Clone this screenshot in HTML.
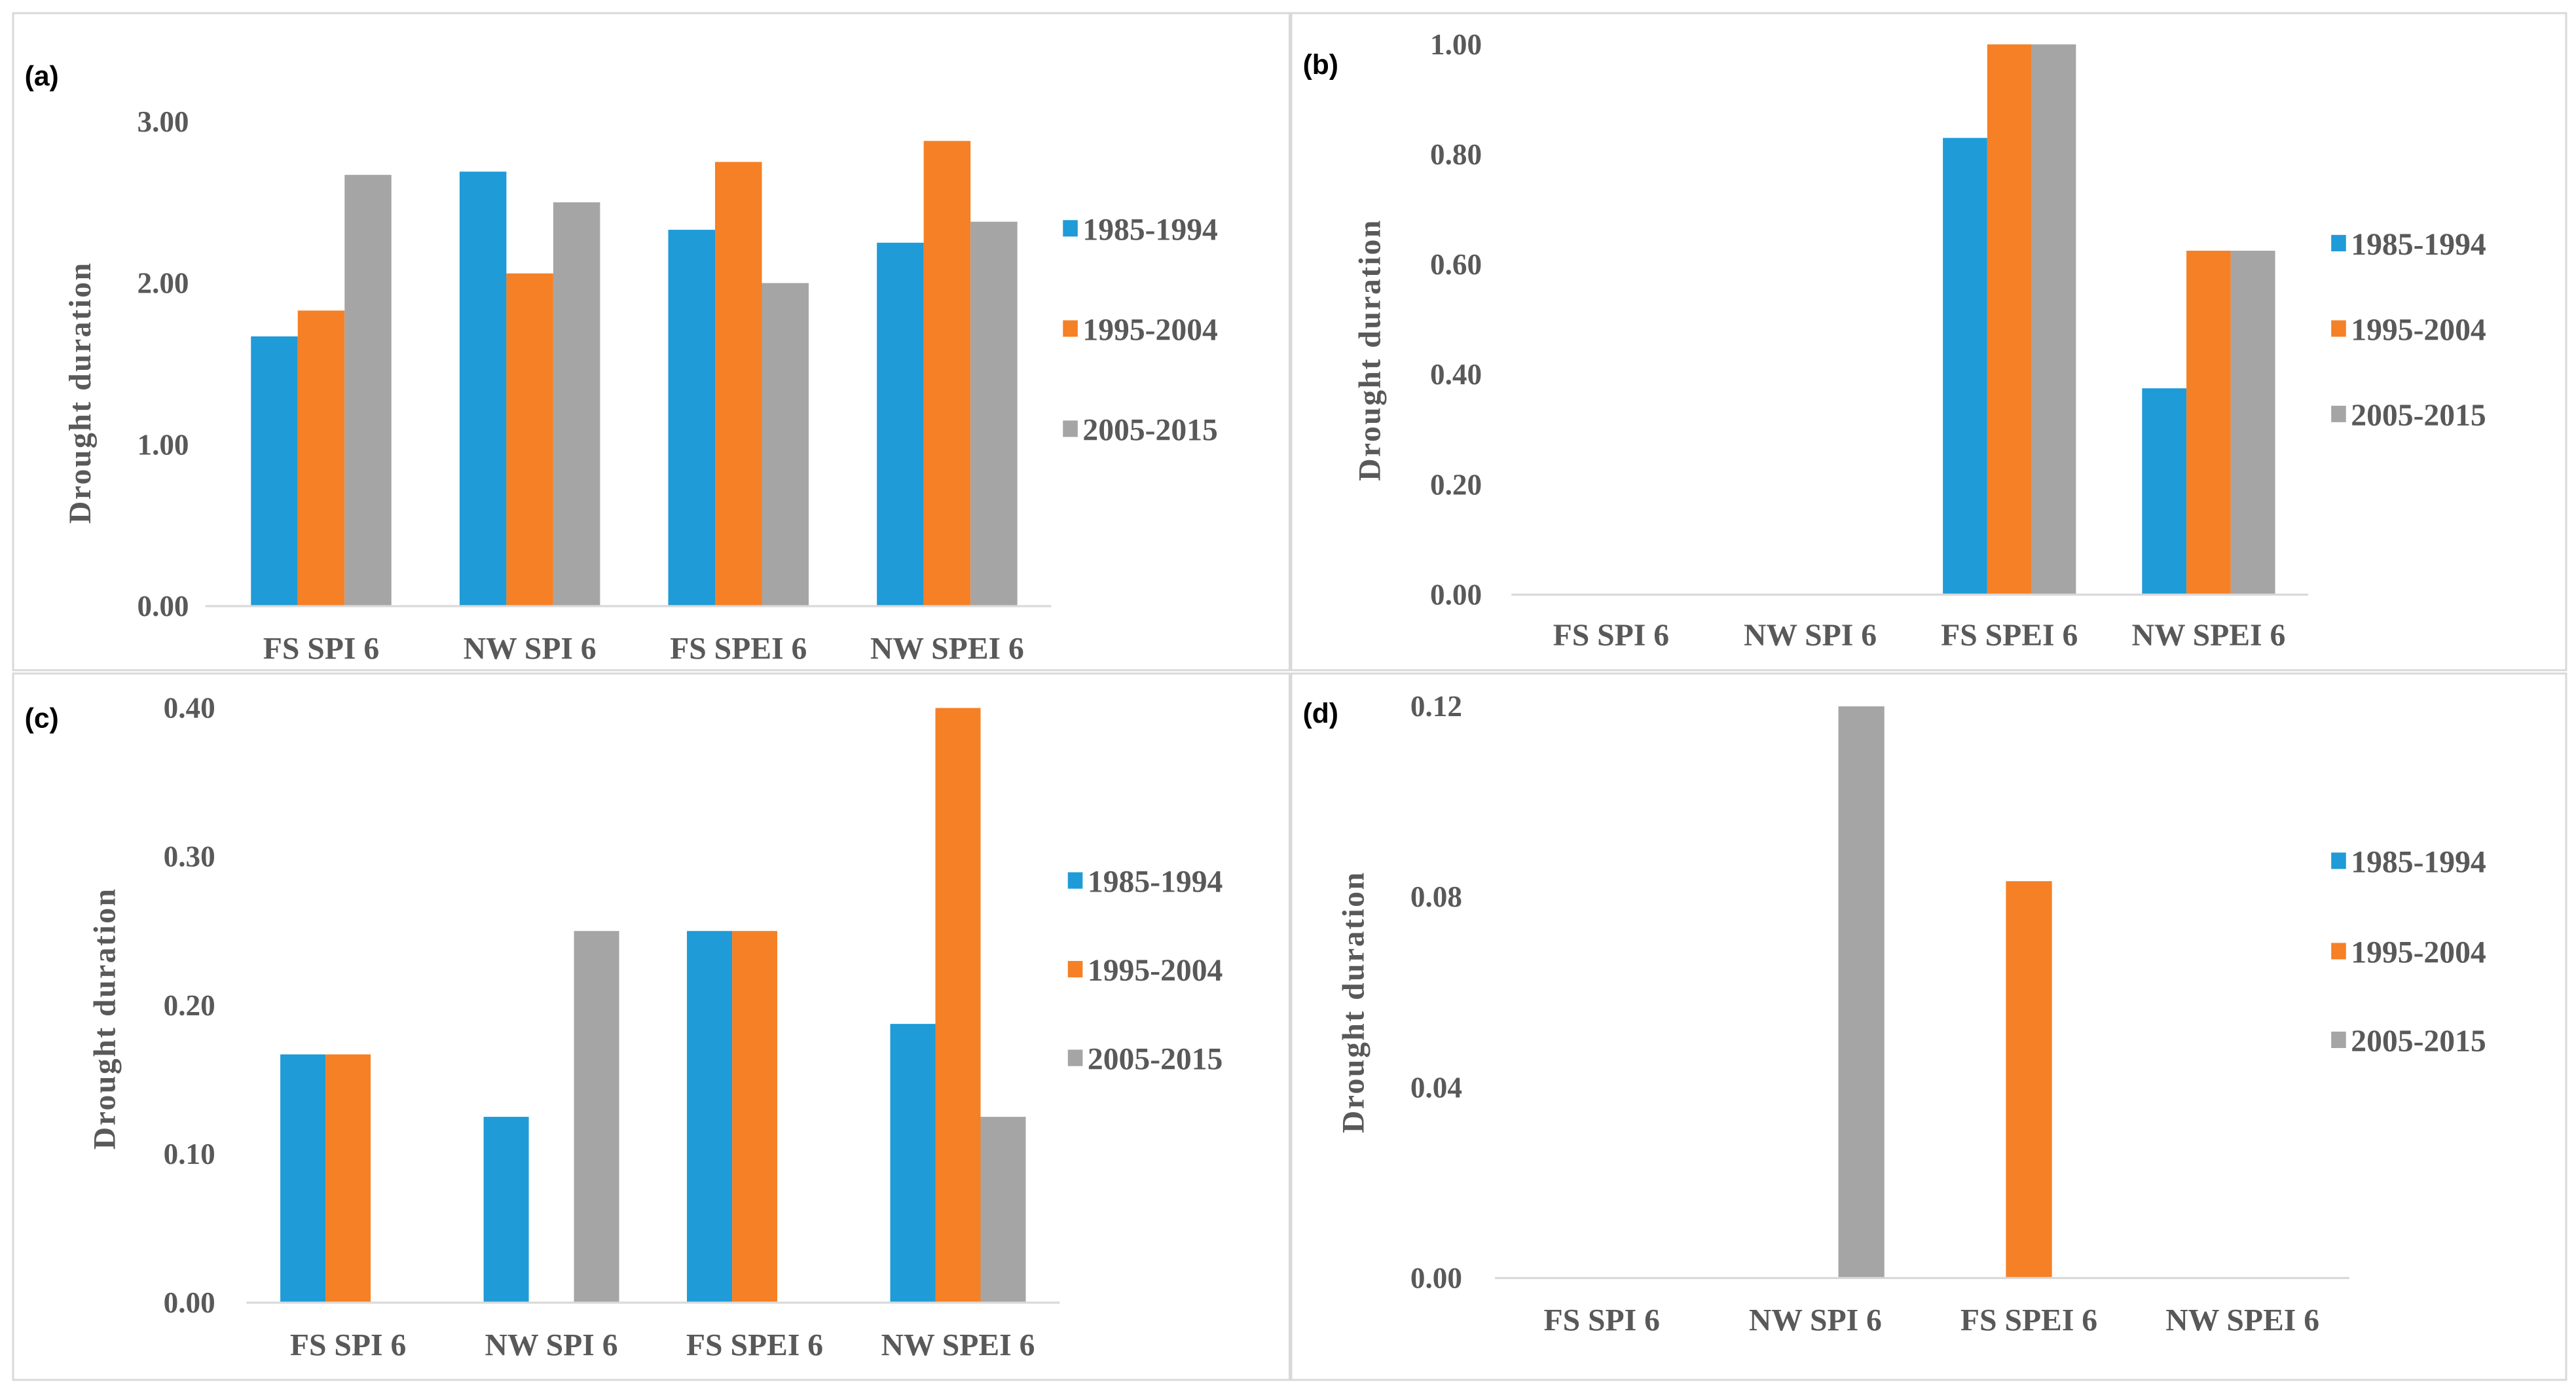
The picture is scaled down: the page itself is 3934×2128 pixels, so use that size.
<!DOCTYPE html>
<html><head><meta charset="utf-8"><style>
html,body{margin:0;padding:0;background:#fff;}
svg{display:block;}
text{font-family:"Liberation Serif",serif;font-weight:bold;fill:#595959;}
</style></head><body>
<svg id="fig" width="3934" height="2128" viewBox="0 0 1568 848" preserveAspectRatio="none" xmlns="http://www.w3.org/2000/svg"></svg>
<script>
const categories = ["FS SPI 6","NW SPI 6","FS SPEI 6","NW SPEI 6"];
const seriesNames = ["1985-1994","1995-2004","2005-2015"];
const colors = ["#1f9bd7","#f58025","#a5a5a5"];
// panel a
const aBlue = [1.67, 2.69, 2.33, 2.25];
const aOrange = [1.83, 2.06, 2.75, 2.88];
const aGray = [2.67, 2.50, 2.00, 2.38];
const aTicks = ["0.00","1.00","2.00","3.00"];
// panel b
const bBlue = [0, 0, 0.83, 0.375];
const bOrange = [0, 0, 1.0, 0.625];
const bGray = [0, 0, 1.0, 0.625];
const bTicks = ["0.00","0.20","0.40","0.60","0.80","1.00"];
// panel c
const cBlue = [0.167, 0.125, 0.25, 0.1875];
const cOrange = [0.167, 0, 0.25, 0.40];
const cGray = [0, 0.25, 0, 0.125];
const cTicks = ["0.00","0.10","0.20","0.30","0.40"];
// panel d
const dBlue = [0, 0, 0, 0];
const dOrange = [0, 0, 0.0833, 0];
const dGray = [0, 0.12, 0, 0];
const dTicks = ["0.00","0.04","0.08","0.12"];

const NS="http://www.w3.org/2000/svg";
const svg=document.getElementById('fig');
function el(tag,attrs,parent,txt){const e=document.createElementNS(NS,tag);for(const k in attrs)e.setAttribute(k,attrs[k]);if(txt!==undefined)e.textContent=txt;parent.appendChild(e);return e;}

function panel(p){
  const g=el('g',{},svg);
  
  
  const box=el('rect',{x:p.bx,y:p.by,width:p.bw,height:p.bh,fill:'#fff',stroke:'#d9d9d9','stroke-width':1.2},g);
  
  
  const lab=el('text',{x:p.bx+7,y:p.labY,'font-size':17,style:'font-family:"Liberation Sans",sans-serif;fill:#000'},g,'('+p.id+')');
  
  
  const max=parseFloat(p.ticks[p.ticks.length-1]);
  const yS=v=>p.y0-(v/max)*(p.y0-p.yTop);
  const xS=i=>p.x0+(i+0.5)*(p.x1-p.x0)/categories.length;
  p.ticks.forEach(t=>{
    const tt=el('text',{x:p.tickX,y:yS(parseFloat(t))+6,'text-anchor':'end','font-size':18},g,t);
    
    
  });
  const series=[p.s0,p.s1,p.s2];
  const w=p.bar;
  series.forEach((arr,si)=>{
    arr.forEach((v,i)=>{
      if(v<=0)return;
      const r=el('rect',{x:xS(i)+(si-1.5)*w,y:yS(v),width:w,height:p.y0-yS(v),fill:colors[si]},g);
      
      
    });
  });
  const ax=el('line',{x1:p.ax0,x2:p.ax1,y1:p.y0,y2:p.y0,stroke:'#d9d9d9','stroke-width':1.3},g);
  
  
  categories.forEach((c,i)=>{
    const t=el('text',{x:xS(i),y:p.catY,'text-anchor':'middle','font-size':19},g,c);
    
    
  });
  const yt=el('text',{x:0,y:0,'text-anchor':'middle','font-size':19,'letter-spacing':1,transform:'translate('+p.titleX+','+p.titleY+') rotate(-90)'},g,'Drought  duration');
  
  
  seriesNames.forEach((n,si)=>{
    const ly=p.legY[si];
    const sq=el('rect',{x:p.legX,y:ly-5,width:9,height:10,fill:colors[si]},g);
    
    
    const lt=el('text',{x:p.legX+12,y:ly+7,'font-size':19},g,n);
    
    
  });
}

panel({id:'a',bx:8,by:8,bw:777,bh:400,labY:52,x0:132,x1:640,ax0:125,ax1:640,y0:369,yTop:74,bar:28.5,ticks:aTicks,tickX:115,catY:401,titleX:55,titleY:239,legX:647,legY:[139,200,261],s0:aBlue,s1:aOrange,s2:aGray});
panel({id:'b',bx:786,by:8,bw:776,bh:400,labY:45,x0:920,x1:1405,ax0:920,ax1:1405,y0:362,yTop:27,bar:27,ticks:bTicks,tickX:902,catY:393,titleX:840,titleY:213,legX:1419,legY:[148,200,252],s0:bBlue,s1:bOrange,s2:bGray});
panel({id:'c',bx:8,by:410,bw:777,bh:430,labY:443,x0:150,x1:645,ax0:150,ax1:645,y0:793,yTop:431,bar:27.5,ticks:cTicks,tickX:131,catY:825,titleX:70,titleY:620,legX:650,legY:[536,590,644],s0:cBlue,s1:cOrange,s2:cGray});
panel({id:'d',bx:786,by:410,bw:776,bh:430,labY:440,x0:910,x1:1430,ax0:910,ax1:1430,y0:778,yTop:430,bar:28,ticks:dTicks,tickX:890,catY:810,titleX:830,titleY:610,legX:1419,legY:[524,579,633],s0:dBlue,s1:dOrange,s2:dGray});
</script>
</body></html>
